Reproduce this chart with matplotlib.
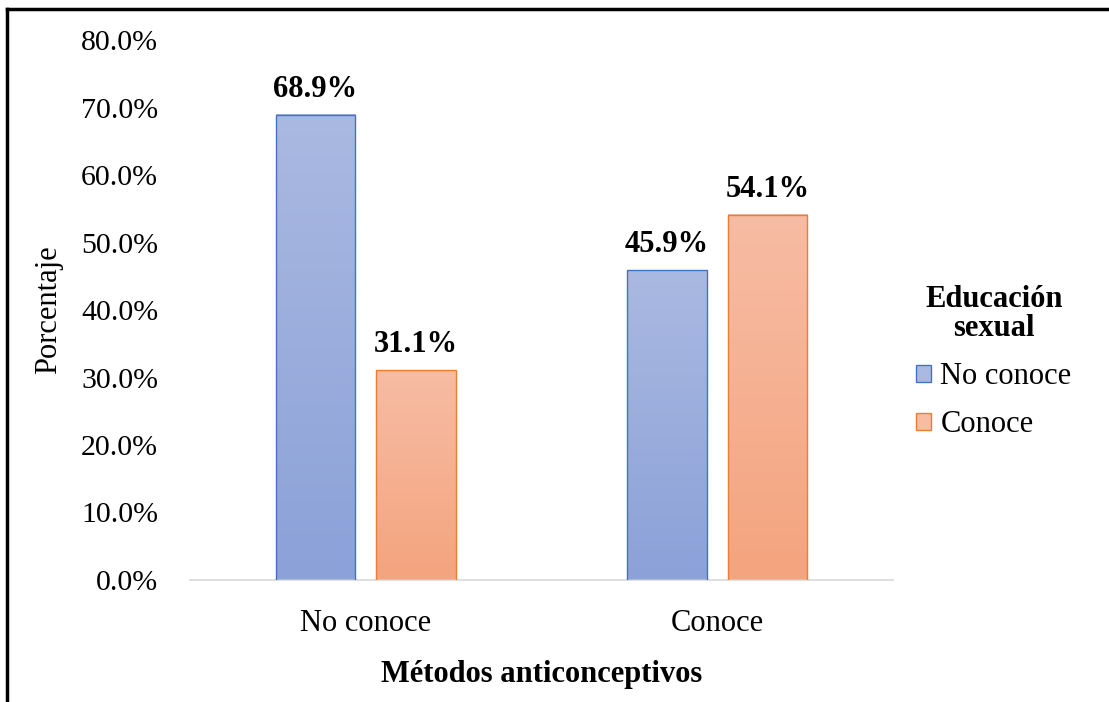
import numpy as np
import matplotlib
matplotlib.use("Agg")
import matplotlib.pyplot as plt
from matplotlib.colors import LinearSegmentedColormap
from matplotlib.ticker import FuncFormatter
from matplotlib.patches import Patch
from matplotlib.lines import Line2D

plt.rcParams['font.family'] = ['Liberation Serif', 'DejaVu Serif']

categories = ['No conoce', 'Conoce']
series_names = ['No conoce', 'Conoce']
no_conoce = [0.689, 0.459]
conoce = [0.311, 0.541]
yticks = [0.0, 0.1, 0.2, 0.3, 0.4, 0.5, 0.6, 0.7, 0.8]

grad_blue = ['#8BA1D8', '#AAB9E1']
grad_orange = ['#F4A47E', '#F7BCA4']
edge_blue = '#4472C4'
edge_orange = '#ED7D31'

fs = 22

fig = plt.figure(figsize=(11.09, 7.02), dpi=100)
ax = fig.add_axes([0.1713, 0.1738, 0.8052 - 0.1713, 0.943 - 0.1738])

x = np.arange(len(categories))
w = 0.227
off = 0.143

grad = np.linspace(0, 1, 256).reshape(-1, 1)
for vals, cols, edge, sgn in [(no_conoce, grad_blue, edge_blue, -1),
                              (conoce, grad_orange, edge_orange, 1)]:
    cmap = LinearSegmentedColormap.from_list('g', cols)
    bars = ax.bar(x + sgn * off, vals, w, color='none', edgecolor=edge, linewidth=1.0, zorder=3)
    for b, v in zip(bars, vals):
        x0, y0 = b.get_x(), b.get_y()
        ax.imshow(grad, cmap=cmap, origin='lower', aspect='auto',
                  extent=[x0, x0 + b.get_width(), y0, y0 + b.get_height()], zorder=2)
        ax.text(b.get_x() + b.get_width() / 2, v + 0.016, '{:.1%}'.format(v),
                ha='center', va='bottom', fontsize=fs, fontweight='bold')

ax.set_xlim(-0.5, 1.5)
ax.set_ylim(0, 0.8)
ax.set_yticks(yticks)
ax.yaxis.set_major_formatter(FuncFormatter(lambda v, p: '{:.1%}'.format(v)))
ax.set_xticks(x)
ax.set_xticklabels(categories)
ax.tick_params(axis='y', length=0, pad=23, labelsize=21.5)
ax.tick_params(axis='x', length=0, pad=21, labelsize=fs)
for s in ['top', 'right', 'left']:
    ax.spines[s].set_visible(False)
ax.spines['bottom'].set_color('#D9D9D9')
ax.spines['bottom'].set_linewidth(1.2)

ax.set_ylabel('Porcentaje', fontsize=fs, labelpad=13)
ax.set_xlabel('Métodos anticonceptivos', fontsize=fs, fontweight='bold', labelpad=16)

handles = [Patch(facecolor=grad_blue[1], edgecolor=edge_blue),
           Patch(facecolor=grad_orange[1], edgecolor=edge_orange)]
leg = fig.legend(handles, series_names, title='Educación\nsexual', loc='center left',
                 bbox_to_anchor=(0.826, 0.484), frameon=False, fontsize=fs,
                 title_fontproperties={'weight': 'bold', 'size': fs},
                 handlelength=0.5, handleheight=0.5, handletextpad=0.3,
                 labelspacing=0.62, borderpad=0, borderaxespad=0, alignment='center')
leg.get_title().set_multialignment('center')
leg.get_title().set_linespacing(1.0)

# outer border (top and left visible)
fig.add_artist(Line2D([0.0063, 0.0063], [0, 0.987], color='black', linewidth=2.5, transform=fig.transFigure))
fig.add_artist(Line2D([0.0063, 1.0], [0.987, 0.987], color='black', linewidth=2.5, transform=fig.transFigure))

fig.savefig('out.png', dpi=100)
